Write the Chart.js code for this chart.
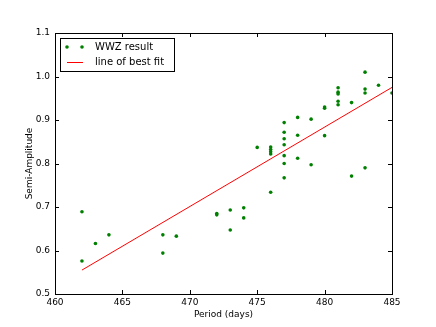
<!DOCTYPE html>
<html>
<head>
<meta charset="UTF-8">
<script src="https://cdn.jsdelivr.net/npm/chart.js"></script>
<style>
  html, body { margin: 0; padding: 0; background: #fff; }
  #wrap { width: 436px; height: 327px; }
</style>
</head>
<body>
<div id="wrap"><canvas id="c" width="436" height="327"></canvas></div>
<script>
// WWZ result points (period in days, semi-amplitude)
const periods = [462, 462, 463, 464, 468, 468, 469, 472, 472, 473, 473, 474, 474,
  475, 476, 476, 476, 476, 476, 477, 477, 477, 477, 477, 477, 477,
  478, 478, 478, 479, 479, 480, 480, 480, 481, 481, 481, 481, 481,
  482, 482, 483, 483, 483, 483, 484, 485];
const amplitudes = [0.689, 0.576, 0.616, 0.636, 0.636, 0.594, 0.633, 0.685, 0.682, 0.693, 0.647, 0.698, 0.675,
  0.837, 0.838, 0.832, 0.827, 0.822, 0.734, 0.894, 0.872, 0.857, 0.843, 0.818, 0.800, 0.767,
  0.906, 0.865, 0.812, 0.902, 0.797, 0.930, 0.927, 0.864, 0.974, 0.964, 0.960, 0.943, 0.935,
  0.940, 0.771, 1.010, 0.971, 0.962, 0.790, 0.980, 0.962];

// line of best fit endpoints
const fitPeriods = [462, 485];
const fitValues = [0.555, 0.975];

const xTicks = [460, 465, 470, 475, 480, 485];
const yTicks = [0.5, 0.6, 0.7, 0.8, 0.9, 1.0, 1.1];

const font = "'DejaVu Sans', sans-serif";

const frame = {
  id: 'frame',
  afterDraw(chart) {
    const { ctx, chartArea: a, scales } = chart;
    ctx.save();
    ctx.strokeStyle = '#000';
    ctx.lineWidth = 1;
    // inward ticks on all four sides
    ctx.beginPath();
    xTicks.forEach(v => {
      const x = Math.round(scales.x.getPixelForValue(v)) + 0.5;
      ctx.moveTo(x, a.bottom); ctx.lineTo(x, a.bottom - 4);
      ctx.moveTo(x, a.top); ctx.lineTo(x, a.top + 4);
    });
    yTicks.forEach(v => {
      const y = Math.round(scales.y.getPixelForValue(v)) + 0.5;
      ctx.moveTo(a.left, y); ctx.lineTo(a.left + 4, y);
      ctx.moveTo(a.right, y); ctx.lineTo(a.right - 4, y);
    });
    ctx.stroke();
    ctx.strokeRect(Math.round(a.left) + 0.5, Math.round(a.top) + 0.5,
      Math.round(a.right - a.left), Math.round(a.bottom - a.top));

    // legend box
    const lx = a.left + 5, ly = a.top + 5, lw = 114, lh = 33;
    ctx.fillStyle = '#fff';
    ctx.fillRect(lx, ly, lw, lh);
    ctx.strokeRect(lx + 0.5, ly + 0.5, lw, lh);
    ctx.fillStyle = '#008000';
    [lx + 7, lx + 22].forEach(px => {
      ctx.beginPath(); ctx.arc(px, ly + 9, 1.8, 0, Math.PI * 2); ctx.fill();
    });
    ctx.strokeStyle = '#ff0000';
    ctx.beginPath(); ctx.moveTo(lx + 7, ly + 24.5); ctx.lineTo(lx + 23, ly + 24.5); ctx.stroke();
    ctx.fillStyle = '#000';
    ctx.font = '10px ' + font;
    ctx.textBaseline = 'middle';
    ctx.fillText('WWZ result', lx + 35, ly + 9);
    ctx.fillText('line of best fit', lx + 35, ly + 24);
    ctx.restore();
  }
};

new Chart(document.getElementById('c'), {
  type: 'scatter',
  data: {
    datasets: [
      {
        label: 'WWZ result',
        data: periods.map((p, i) => ({ x: p, y: amplitudes[i] })),
        backgroundColor: '#008000',
        borderColor: '#008000',
        pointRadius: 1.8,
        pointBorderWidth: 0,
        order: 2
      },
      {
        label: 'line of best fit',
        type: 'line',
        data: fitPeriods.map((p, i) => ({ x: p, y: fitValues[i] })),
        borderColor: '#ff0000',
        borderWidth: 1,
        pointRadius: 0,
        fill: false,
        order: 1
      }
    ]
  },
  options: {
    responsive: false,
    animation: false,
    layout: { padding: { left: 24, right: 44, top: 33, bottom: 7 } },
    plugins: { legend: { display: false }, tooltip: { enabled: false } },
    scales: {
      x: {
        type: 'linear', min: 460, max: 485,
        afterBuildTicks: s => { s.ticks = xTicks.map(v => ({ value: v })); },
        afterFit: s => { s.height = 26; },
        grid: { display: false, drawTicks: false },
        border: { display: false },
        ticks: { color: '#000', font: { family: font, size: 9 }, padding: 3, maxRotation: 0 },
        title: { display: true, text: 'Period (days)', color: '#000', font: { family: font, size: 9 }, padding: { top: 1, bottom: 0 } }
      },
      y: {
        type: 'linear', min: 0.5, max: 1.1,
        afterBuildTicks: s => { s.ticks = yTicks.map(v => ({ value: v })); },
        afterFit: s => { s.width = 31; },
        grid: { display: false, drawTicks: false },
        border: { display: false },
        ticks: { color: '#000', font: { family: font, size: 9 }, padding: 5,
          callback: v => v.toFixed(1) },
        title: { display: true, text: 'Semi-Amplitude', color: '#000', font: { family: font, size: 9 }, padding: { top: 0, bottom: 0 } }
      }
    }
  },
  plugins: [frame]
});
</script>
</body>
</html>
